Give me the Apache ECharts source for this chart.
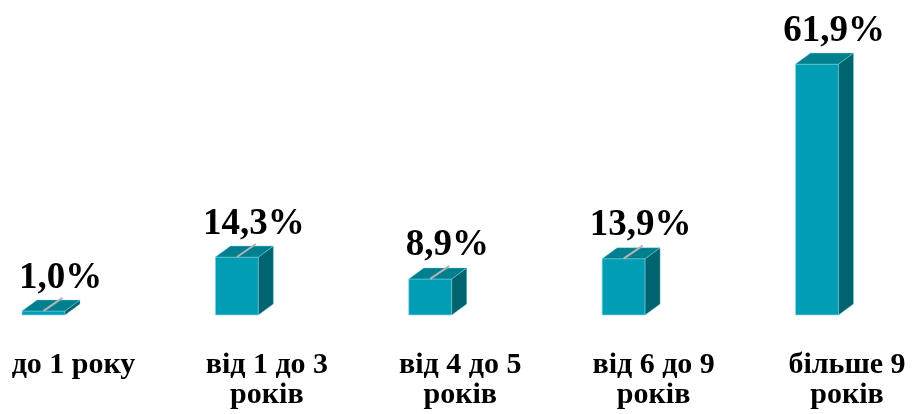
<!DOCTYPE html>
<html><head><meta charset="utf-8">
<script src="https://cdn.jsdelivr.net/npm/echarts@6/dist/echarts.min.js"></script>
<style>html,body{margin:0;padding:0;background:#fff}#c{width:915px;height:414px}</style>
</head><body><div id="c"></div>
<script>
const categories = ['до 1 року', 'від 1 до 3\nроків', 'від 4 до 5\nроків', 'від 6 до 9\nроків', 'більше 9\nроків'];
const values = [1.0, 14.3, 8.9, 13.9, 61.9];
const valueLabels = ['1,0%', '14,3%', '8,9%', '13,9%', '61,9%'];

const chart = echarts.init(document.getElementById('c'));
const BAR_W = 43, DX = 15, DY = 11;
const FRONT = '#009db5', TOP = '#007f8e', SIDE = '#00646f', EDGE = 'rgba(140,215,228,0.7)';
chart.setOption({
  animation: false,
  grid: { left: 43.5, right: 98, top: 11, bottom: 99 },
  xAxis: { type: 'category', data: categories, boundaryGap: false, show: false },
  yAxis: { type: 'value', min: 0, max: 75, show: false },
  series: [{
    type: 'custom',
    clip: false,
    data: values.map((v, i) => [i, v]),
    renderItem: function (params, api) {
      const i = api.value(0), v = api.value(1);
      const top = api.coord([i, v]);
      const base = api.coord([i, 0]);
      const cx = top[0];
      const x0 = cx - BAR_W / 2, x1 = cx + BAR_W / 2, yt = top[1], yb = base[1];
      const children = [
        { type: 'polygon', shape: { points: [[x0, yt], [x1, yt], [x1, yb], [x0, yb]] },
          style: { fill: FRONT, stroke: EDGE, lineWidth: 1 } },
        { type: 'polygon', shape: { points: [[x1, yt], [x1 + DX, yt - DY], [x1 + DX, yb - DY], [x1, yb]] },
          style: { fill: SIDE, stroke: EDGE, lineWidth: 0.6 } },
        { type: 'polygon', shape: { points: [[x0, yt], [x0 + DX, yt - DY], [x1 + DX, yt - DY], [x1, yt]] },
          style: { fill: TOP, stroke: EDGE, lineWidth: 0.6 } }
      ];
      if (v < 50) {
        children.push({ type: 'line', shape: { x1: cx, y1: yt, x2: cx + 19, y2: yt - 13 },
          style: { stroke: '#b4b4b4', lineWidth: 2 } });
      }
      children.push({ type: 'text', style: {
        text: valueLabels[i], x: cx + 17, y: yt - DY - 22,
        fill: '#000', font: 'bold 37px "Liberation Serif", "Times New Roman", serif',
        align: 'center', verticalAlign: 'middle' } });
      children.push({ type: 'text', style: {
        text: categories[i], x: cx + 30, y: yb + 35,
        fill: '#000', font: 'bold 30px "Liberation Serif", "Times New Roman", serif',
        lineHeight: 30, align: 'center', verticalAlign: 'top' } });
      return { type: 'group', children: children };
    }
  }]
});
</script>
</body></html>
